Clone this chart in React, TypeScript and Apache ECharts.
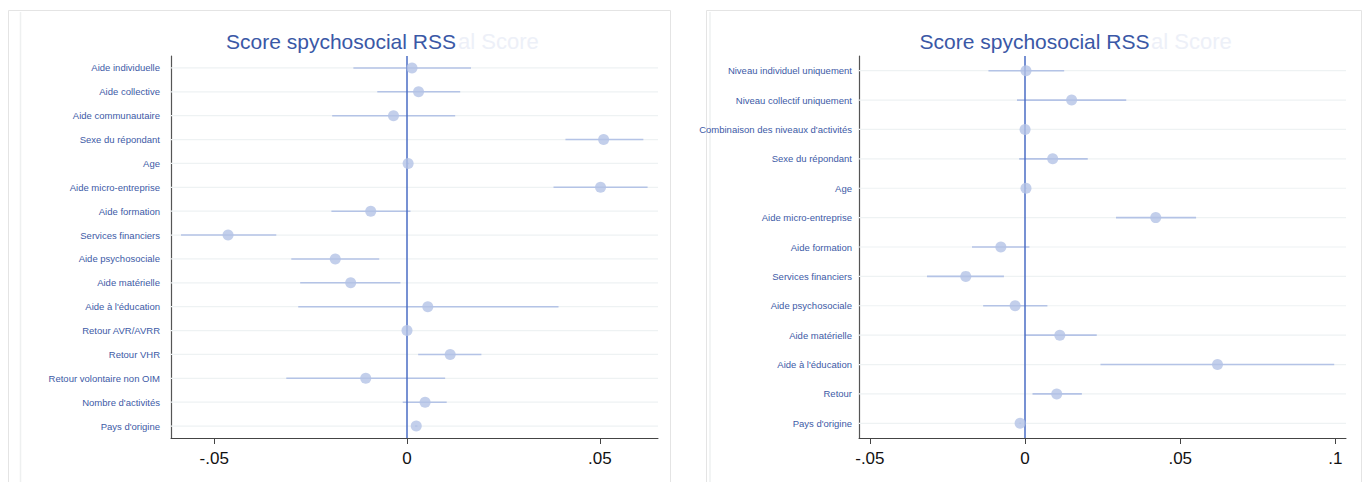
import React, { useEffect, useRef } from "react";
import * as echarts from "echarts";

const titleText = "Score spychosocial RSS";
const ghostTitleTail = "al Score";

const leftCategories = [
  "Aide individuelle",
  "Aide collective",
  "Aide communautaire",
  "Sexe du répondant",
  "Age",
  "Aide micro-entreprise",
  "Aide formation",
  "Services financiers",
  "Aide psychosociale",
  "Aide matérielle",
  "Aide à l'éducation",
  "Retour AVR/AVRR",
  "Retour VHR",
  "Retour volontaire non OIM",
  "Nombre d'activités",
  "Pays d'origine",
];
const leftCoef = [0.0013, 0.003, -0.0035, 0.051, 0.0003, 0.0502, -0.0094, -0.0464, -0.0186, -0.0146, 0.0054, 0.0, 0.0112, -0.0107, 0.0047, 0.0024];
const leftLow = [-0.0139, -0.0077, -0.0194, 0.0411, 0.0001, 0.038, -0.0196, -0.0586, -0.03, -0.0277, -0.0282, -0.0002, 0.0029, -0.0313, -0.0011, 0.0021];
const leftHigh = [0.0166, 0.0138, 0.0125, 0.0613, 0.0005, 0.0624, 0.0009, -0.0339, -0.0072, -0.0017, 0.0393, 0.0002, 0.0193, 0.0099, 0.0103, 0.0027];
const leftTicks = [-0.05, 0, 0.05];

const rightCategories = [
  "Niveau individuel uniquement",
  "Niveau collectif uniquement",
  "Combinaison des niveaux d'activités",
  "Sexe du répondant",
  "Age",
  "Aide micro-entreprise",
  "Aide formation",
  "Services financiers",
  "Aide psychosociale",
  "Aide matérielle",
  "Aide à l'éducation",
  "Retour",
  "Pays d'origine",
];
const rightCoef = [0.0003, 0.015, 0.0, 0.0089, 0.0003, 0.0421, -0.0078, -0.0191, -0.0032, 0.0112, 0.062, 0.0102, -0.0016];
const rightLow = [-0.0118, -0.0026, -0.0002, -0.0019, 0.0001, 0.0293, -0.0171, -0.0316, -0.0135, 0.0, 0.0243, 0.0024, -0.0018];
const rightHigh = [0.0126, 0.0326, 0.0002, 0.0202, 0.0005, 0.0551, 0.0014, -0.0068, 0.0072, 0.0231, 0.0996, 0.0183, -0.0014];
const rightTicks = [-0.05, 0, 0.05, 0.1];

const FONT = "'Liberation Sans', Arial, sans-serif";
const POINT = "#b4c3e6";
const LABEL = "#3d5aa6";

function fmtTick(v: number) {
  if (v === 0) return "0";
  return String(Number(v.toFixed(4))).replace(/^(-?)0\./, "$1.");
}

function buildPanel(idx: number, cats: string[], coef: number[], lo: number[], hi: number[], ticks: number[], min: number, max: number, labelMargin: number) {
  const xAxis = {
    gridIndex: idx,
    type: "value",
    min,
    max,
    axisLine: { show: true, onZero: false, lineStyle: { color: "#444", width: 1 } },
    axisTick: { show: true, length: 6, customValues: ticks, lineStyle: { color: "#444" } },
    axisLabel: { customValues: ticks, formatter: fmtTick, fontSize: 17, color: "#111", margin: 12, fontFamily: FONT },
    splitLine: { show: false },
  };
  const yAxis = {
    gridIndex: idx,
    type: "category",
    data: cats,
    inverse: true,
    axisLine: { show: true, onZero: false, lineStyle: { color: "#555", width: 1.2 } },
    axisTick: { show: false },
    axisLabel: { fontSize: 9.5, color: LABEL, margin: labelMargin, fontFamily: FONT },
    splitLine: { show: false },
  };
  const series = [
    {
      type: "custom",
      xAxisIndex: idx,
      yAxisIndex: idx,
      z: 1,
      silent: true,
      data: cats.map((_, i) => [0, i]),
      encode: { x: 0, y: 1 },
      renderItem: (params: any, api: any) => {
        const p = api.coord([0, api.value(1)]);
        const cs = params.coordSys;
        return {
          type: "line",
          shape: { x1: cs.x, y1: p[1], x2: cs.x + cs.width, y2: p[1] },
          style: { stroke: "#eef2f3", lineWidth: 1.2 },
        };
      },
    },
    {
      type: "custom",
      xAxisIndex: idx,
      yAxisIndex: idx,
      z: 2,
      silent: true,
      data: cats.map((_, i) => [lo[i], hi[i], i]),
      encode: { x: [0, 1], y: 2 },
      renderItem: (_params: any, api: any) => {
        const a = api.coord([api.value(0), api.value(2)]);
        const b = api.coord([api.value(1), api.value(2)]);
        return {
          type: "line",
          shape: { x1: a[0], y1: a[1], x2: b[0], y2: b[1] },
          style: { stroke: POINT, lineWidth: 1.6 },
        };
      },
    },
    {
      type: "scatter",
      xAxisIndex: idx,
      yAxisIndex: idx,
      z: 4,
      symbol: "circle",
      symbolSize: 11,
      itemStyle: { color: POINT },
      data: cats.map((_, i) => [coef[i], i]),
      markLine: {
        silent: true,
        symbol: "none",
        label: { show: false },
        lineStyle: { color: "#4a6cc4", width: 1.5, type: "solid" },
        data: [{ xAxis: 0 }],
        z: 3,
      },
    },
  ];
  return { xAxis, yAxis, series };
}

export default function App() {
  const ref = useRef<HTMLDivElement>(null);
  useEffect(() => {
    if (!ref.current) return;
    const chart = echarts.init(ref.current, null, { renderer: "svg" });
    const L = buildPanel(0, leftCategories, leftCoef, leftLow, leftHigh, leftTicks, -0.0612, 0.0651, 11);
    const R = buildPanel(1, rightCategories, rightCoef, rightLow, rightHigh, rightTicks, -0.0535, 0.1034, 7);
    chart.setOption({
      animation: false,
      backgroundColor: "#ffffff",
      textStyle: { fontFamily: FONT },
      grid: [
        { left: 171, top: 56, width: 487, height: 382, containLabel: false },
        { left: 859, top: 56, width: 487, height: 382, containLabel: false },
      ],
      xAxis: [L.xAxis, R.xAxis],
      yAxis: [L.yAxis, R.yAxis],
      series: [...L.series, ...R.series],
      graphic: [
        { type: "rect", z: -10, shape: { x: 8.5, y: 10.5, width: 662, height: 500 }, style: { fill: "none", stroke: "#e4e4e4", lineWidth: 1 } },
        { type: "line", z: -10, shape: { x1: 20.5, y1: 12, x2: 20.5, y2: 482 }, style: { stroke: "#eef0f0", lineWidth: 1.5 } },
        { type: "rect", z: -10, shape: { x: 706.5, y: 10.5, width: 655, height: 500 }, style: { fill: "none", stroke: "#e4e4e4", lineWidth: 1 } },
        { type: "line", z: -10, shape: { x1: 710, y1: 12, x2: 710, y2: 482 }, style: { stroke: "#eef0f0", lineWidth: 1.5 } },
        { type: "text", z: 5, x: 458, y: 41, style: { text: ghostTitleTail, fontSize: 22, fill: "#edf0f8", align: "left", verticalAlign: "middle", fontFamily: FONT } },
        { type: "text", z: 6, x: 341, y: 41, style: { text: titleText, fontSize: 21, fill: "#3a58a6", align: "center", verticalAlign: "middle", fontFamily: FONT } },
        { type: "text", z: 5, x: 1151, y: 41, style: { text: ghostTitleTail, fontSize: 22, fill: "#edf0f8", align: "left", verticalAlign: "middle", fontFamily: FONT } },
        { type: "text", z: 6, x: 1034.5, y: 41, style: { text: titleText, fontSize: 21, fill: "#3a58a6", align: "center", verticalAlign: "middle", fontFamily: FONT } },
      ],
    });
    return () => chart.dispose();
  }, []);
  return (
    <div
      ref={ref}
      style={{ position: "fixed", left: 0, top: 0, width: 1372, height: 482, background: "#fff" }}
    />
  );
}
